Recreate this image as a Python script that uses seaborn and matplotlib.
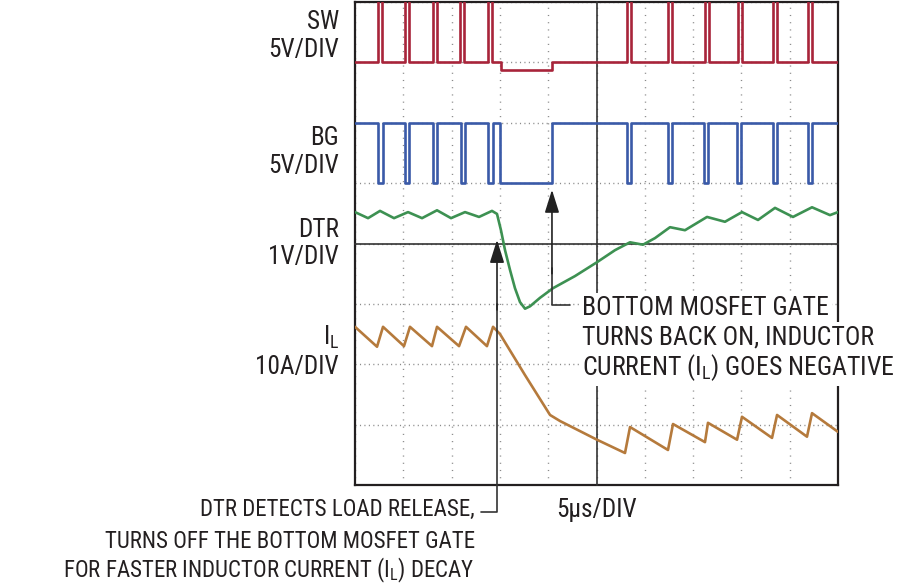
import matplotlib.pyplot as plt
import numpy as np
import seaborn as sns
from matplotlib import font_manager

# time axis in microseconds (5 us per division, 10 divisions)
# levels in screen divisions (8 divisions, 0 = bottom of the screen)

# SW: pulse (or dip) start, end and level reached
sw_start = [2.38, 5.18, 8.07, 10.87, 13.77, 15.08, 28.16, 32.40, 36.23, 39.65, 43.27, 46.89]
sw_end = [2.80, 5.55, 8.45, 11.30, 14.20, 20.39, 28.57, 32.82, 36.60, 40.02, 43.65, 47.31]
sw_level = [8.6, 8.6, 8.6, 8.6, 8.6, 6.88, 8.6, 8.6, 8.6, 8.6, 8.6, 8.6]
sw_idle = 7.0

# BG: gate low intervals
bg_start = [2.38, 5.18, 8.07, 10.97, 13.77, 15.01, 28.16, 32.40, 36.13, 39.55, 43.27, 46.89]
bg_end = [2.90, 5.59, 8.49, 11.39, 14.29, 20.39, 28.57, 32.82, 36.54, 39.96, 43.69, 47.31]
bg_level = [5.0] * 12
bg_idle = 6.0

dtr_t = [0.00, 1.35, 2.59, 4.04, 5.49, 6.94, 8.49, 9.94, 11.39, 12.84, 14.18, 14.70,
         15.11, 15.53, 16.05, 16.56, 17.08, 17.60, 18.12, 19.15, 20.50, 22.77, 25.05,
         26.92, 28.47, 29.81, 31.06, 32.61, 34.16, 36.44, 38.30, 40.06, 41.72, 43.48,
         45.34, 47.31, 49.17, 50.00]
dtr_v = [4.52, 4.42, 4.54, 4.42, 4.52, 4.42, 4.55, 4.42, 4.52, 4.44, 4.54, 4.49,
         4.22, 3.89, 3.56, 3.26, 3.03, 2.92, 2.96, 3.10, 3.26, 3.46, 3.69,
         3.89, 4.02, 3.98, 4.09, 4.27, 4.22, 4.44, 4.36, 4.52, 4.39, 4.59,
         4.44, 4.60, 4.47, 4.52]

il_t = [0.00, 2.28, 2.90, 5.07, 5.69, 7.97, 8.49, 10.77, 11.49, 13.66, 14.29, 15.01,
        17.60, 20.19, 21.22, 25.05, 27.95, 28.47, 32.40, 32.92, 36.23, 36.54, 39.55,
        40.06, 43.17, 43.69, 46.79, 47.31, 50.00]
il_v = [2.62, 2.29, 2.62, 2.30, 2.62, 2.30, 2.62, 2.30, 2.62, 2.30, 2.62, 2.50,
        1.82, 1.16, 1.06, 0.75, 0.53, 0.96, 0.58, 1.01, 0.71, 1.03, 0.75,
        1.13, 0.78, 1.16, 0.80, 1.19, 0.88]

channel_names = ["SW", "BG", "DTR", r"I$_\mathregular{L}$"]
channel_scales = ["5V/DIV", "5V/DIV", "1V/DIV", "10A/DIV"]
name_y = [7.67, 5.75, 4.22, 2.45]
scale_y = [7.20, 5.28, 3.78, 1.95]

note_right = ["BOTTOM MOSFET GATE", "TURNS BACK ON, INDUCTOR",
              r"CURRENT (I$_\mathregular{L}$) GOES NEGATIVE"]
note_left = ["DTR DETECTS LOAD RELEASE,", "TURNS OFF THE BOTTOM MOSFET GATE",
             r"FOR FASTER INDUCTOR CURRENT (I$_\mathregular{L}$) DECAY"]

colors = {"SW": "#a8243a", "BG": "#3a5aa8", "DTR": "#3d9152", "IL": "#b57a3c"}
ink = "#231f20"


def square_wave(starts, ends, levels, idle, t_end=50.0):
    t, v = [0.0], [idle]
    for a, b, lev in zip(starts, ends, levels):
        t += [a, a, b, b]
        v += [idle, lev, lev, idle]
    t.append(t_end)
    v.append(idle)
    return t, v


def has_font(fam):
    try:
        font_manager.findfont(font_manager.FontProperties(family=fam),
                              fallback_to_default=False)
        return True
    except ValueError:
        return False


sns.set_style("white")
# a condensed face if there is one, otherwise plain Liberation Sans a bit smaller
narrow = [f for f in ["Liberation Sans Narrow", "Roboto Condensed"] if has_font(f)]
if narrow:
    plt.rcParams["font.family"] = [narrow[0], "DejaVu Sans"]
    fs, fs_right, fs_left = 18.2, 18.5, 16.5
else:
    plt.rcParams["font.family"] = ["Liberation Sans", "DejaVu Sans"]
    fs, fs_right, fs_left = 16.0, 15.0, 13.6
plt.rcParams["mathtext.fontset"] = "custom"

fig = plt.figure(figsize=(9, 5.87), dpi=100)
pos = [355 / 900, 102 / 587, 483 / 900, 483 / 587]

# screen with dotted graticule
grid_ax = fig.add_axes(pos)
grid_ax.set_xlim(0, 50)
grid_ax.set_ylim(0, 8)
grid_ax.set_xticks(np.arange(0, 51, 5))
grid_ax.set_yticks(np.arange(0, 9, 1))
grid_ax.tick_params(length=0, labelbottom=False, labelleft=False)
grid_ax.xaxis.grid(True, color="#8a8a8a", lw=1, linestyle=(0, (0.8, 4.4)))
grid_ax.yaxis.grid(True, color="#8a8a8a", lw=1, linestyle=(0, (0.8, 2.4)))
for sp in grid_ax.spines.values():
    sp.set_color(ink)
    sp.set_linewidth(1.6)

# centre cross-hair with minor ticks, traces on top
ax = fig.add_axes(pos)
ax.patch.set_alpha(0)
ax.set_xlim(0, 50)
ax.set_ylim(0, 8)
ax.spines["top"].set_visible(False)
ax.spines["right"].set_visible(False)
ax.spines["left"].set_position(("data", 25))
ax.spines["bottom"].set_position(("data", 4))
for side in ("left", "bottom"):
    ax.spines[side].set_color("#333333")
    ax.spines[side].set_linewidth(1.2)
ax.set_xticks(np.arange(0, 50.01, 1))
ax.set_yticks(np.arange(0, 8.01, 0.25))
ax.tick_params(direction="inout", length=6, width=1.1, color="#333333",
               labelbottom=False, labelleft=False)

sw_t, sw_v = square_wave(sw_start, sw_end, sw_level, sw_idle)
bg_t, bg_v = square_wave(bg_start, bg_end, bg_level, bg_idle)
traces = [(sw_t, sw_v, colors["SW"]), (bg_t, bg_v, colors["BG"]),
          (dtr_t, dtr_v, colors["DTR"]), (il_t, il_v, colors["IL"])]
for t, v, c in traces:
    sns.lineplot(x=t, y=v, sort=False, estimator=None, ax=ax, color=c,
                 lw=1.9, zorder=3)
ax.set_xlabel("")
ax.set_ylabel("")

# channel labels
for name, scale, ny, sy in zip(channel_names, channel_scales, name_y, scale_y):
    ax.text(-1.66, ny, name, ha="right", va="center", fontsize=fs, color=ink)
    ax.text(-1.66, sy, scale, ha="right", va="center", fontsize=fs, color=ink)

ax.text(25, -0.41, "5µs/DIV", ha="center", va="center", fontsize=fs, color=ink)

arrow_style = dict(arrowstyle="-|>,head_length=0.7,head_width=0.22",
                   color="#222222", lw=1.2, shrinkA=0, shrinkB=0, mutation_scale=20)

# callout: bottom gate turns back on
ax.plot([22.26, 20.39, 20.39], [2.98, 2.98, 3.6], color="#333333", lw=1.2,
        clip_on=False, zorder=4)
ax.annotate("", xy=(20.39, 4.89), xytext=(20.39, 3.5), arrowprops=arrow_style,
            zorder=4)
for line, y in zip(note_right, [2.93, 2.45, 1.95]):
    ax.text(23.5, y, line, ha="left", va="center", fontsize=fs_right, color=ink,
            zorder=5, bbox=dict(boxstyle="square,pad=0.12", fc="white", ec="none"))

# callout: DTR detects load release
ax.plot([13.04, 14.70, 14.70], [-0.45, -0.45, 3.0], color="#333333", lw=1.2,
        clip_on=False, zorder=4)
ax.annotate("", xy=(14.70, 4.06), xytext=(14.70, 2.9), arrowprops=arrow_style,
            zorder=4, annotation_clip=False)
for line, y in zip(note_left, [-0.41, -0.93, -1.41]):
    ax.text(12.42, y, line, ha="right", va="center", fontsize=fs_left, color=ink)

fig.savefig("out.png", dpi=100)
